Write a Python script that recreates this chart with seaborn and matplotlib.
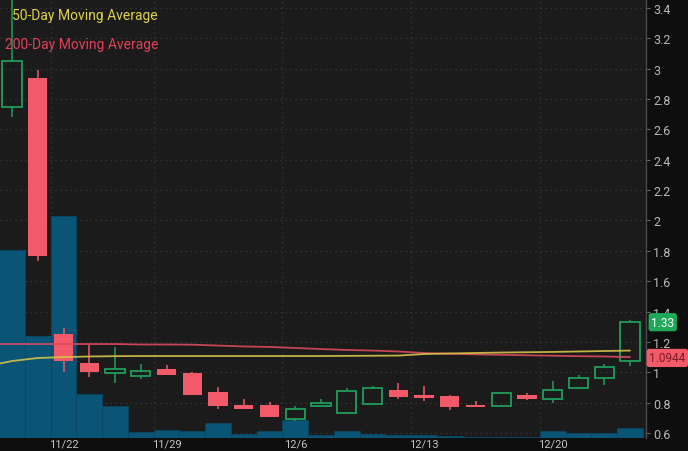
import matplotlib
matplotlib.use("Agg")
import matplotlib.pyplot as plt
import matplotlib.transforms as mtransforms
import numpy as np
import seaborn as sns

# daily candles
dates = ['11/18', '11/19', '11/22', '11/23', '11/24', '11/26', '11/29', '11/30', '12/1', '12/2',
         '12/3', '12/6', '12/7', '12/8', '12/9', '12/10', '12/13', '12/14', '12/15', '12/16',
         '12/17', '12/20', '12/21', '12/22', '12/23']
opens = [2.75, 2.94, 1.25, 1.06, 0.995, 0.975, 1.02, 0.995, 0.87, 0.784, 0.784, 0.692, 0.778,
         0.732, 0.791, 0.883, 0.85, 0.844, 0.784, 0.778, 0.85, 0.824, 0.896, 0.962, 1.074]
highs = [3.55, 2.99, 1.29, 1.18, 1.167, 1.055, 1.048, 1.002, 0.903, 0.824, 0.804, 0.778, 0.824,
         0.896, 0.91, 0.929, 0.91, 0.85, 0.811, 0.87, 0.864, 0.943, 0.982, 1.055, 1.344]
lows = [2.68, 1.733, 1.002, 0.969, 0.929, 0.956, 0.982, 0.85, 0.758, 0.758, 0.705, 0.679, 0.778,
        0.732, 0.791, 0.824, 0.811, 0.752, 0.771, 0.778, 0.817, 0.798, 0.896, 0.916, 1.041]
closes = [3.05, 1.766, 1.074, 1.002, 1.022, 1.008, 0.982, 0.85, 0.778, 0.758, 0.705, 0.758, 0.798,
          0.877, 0.896, 0.837, 0.831, 0.771, 0.771, 0.864, 0.824, 0.883, 0.962, 1.035, 1.33]
volume = [18.8, 10.2, 22.2, 4.4, 3.2, 0.6, 0.8, 0.7, 1.5, 0.4, 0.7, 1.8, 0.3, 0.7, 0.4, 0.3,
          0.3, 0.2, 0.1, 0.1, 0.1, 0.7, 0.5, 0.5, 1.0]  # millions

# moving averages start one session earlier (11/17) so the lines reach the left edge
ma50 = [1.04, 1.074, 1.094, 1.10, 1.104, 1.106, 1.107, 1.107, 1.107, 1.107, 1.107, 1.107, 1.107,
        1.107, 1.108, 1.109, 1.11, 1.12, 1.124, 1.127, 1.13, 1.132, 1.134, 1.137, 1.14, 1.143]
ma200 = [1.186, 1.186, 1.186, 1.186, 1.186, 1.186, 1.183, 1.183, 1.182, 1.176, 1.17, 1.167, 1.16,
         1.153, 1.147, 1.143, 1.137, 1.127, 1.122, 1.118, 1.115, 1.112, 1.109, 1.106, 1.104, 1.10]

tick_dates = ['11/22', '11/29', '12/6', '12/13', '12/20']
price_ticks = [0.6, 0.8, 1.0, 1.2, 1.4, 1.6, 1.8, 2.0, 2.2, 2.4, 2.6, 2.8, 3.0, 3.2, 3.4]
price_labels = ['0.6', '0.8', '1', '1.2', '1.4', '1.6', '1.8', '2', '2.2', '2.4', '2.6', '2.8',
                '3', '3.2', '3.4']
last_price = 1.33
ma_tag = 1.0944

bg = '#1b1b1b'
panel = '#0e0e0e'
up_color = '#1f9d5c'
down_color = '#f25a69'
vol_color = '#0a5575'
ma50_color = '#d6c24a'
ma200_color = '#db4a5e'
grid_color = '#3a3a3a'

sns.set_theme(style="dark", rc={"axes.facecolor": bg, "figure.facecolor": panel,
                                "savefig.facecolor": panel})
plt.rcParams['font.family'] = ['Roboto', 'DejaVu Sans']

pos = np.arange(len(dates))
ma_pos = np.arange(-1, len(dates))
o, h, l, c = map(np.array, (opens, highs, lows, closes))
up = c >= o
body_lo = np.minimum(o, c)
body_hi = np.maximum(o, c)

fig = plt.figure(figsize=(6.88, 4.52), dpi=100)
rect = [0, 13 / 452, 646 / 688, 439 / 452]
ax = fig.add_axes(rect)          # background, grid and price scale
axv = ax.twinx()                 # volume
axc = fig.add_axes(rect, sharex=ax, sharey=ax)  # candles + averages
ax.set_zorder(0)
axv.set_zorder(1)
axc.set_zorder(2)
axv.patch.set_visible(False)
axc.patch.set_visible(False)

# volume
sns.barplot(x=pos, y=volume, ax=axv, native_scale=True, width=1.0, color=vol_color,
            saturation=1, errorbar=None, edgecolor='#094760', linewidth=0.6)
axv.set_ylim(0, 43.9)
axv.set_yticks([])
axv.set_ylabel('')
for s in axv.spines.values():
    s.set_visible(False)

# candles
wick_cols = np.where(up, up_color, down_color)
axc.vlines(pos, body_hi, h, colors=wick_cols, lw=1.1, zorder=2)
axc.vlines(pos, l, body_lo, colors=wick_cols, lw=1.1, zorder=2)
axc.bar(pos[~up], (body_hi - body_lo)[~up], bottom=body_lo[~up], width=0.75,
        color=down_color, linewidth=0, zorder=3)
axc.bar(pos[up], np.maximum(body_hi - body_lo, 0.01)[up], bottom=body_lo[up], width=0.75,
        facecolor='none', edgecolor=up_color, linewidth=1.3, zorder=3)

# moving averages
sns.lineplot(x=ma_pos, y=ma200, ax=axc, color=ma200_color, lw=1.3, alpha=0.9, zorder=4)
sns.lineplot(x=ma_pos, y=ma50, ax=axc, color=ma50_color, lw=1.3, alpha=0.9, zorder=5)
axc.axis('off')

# scales, ticks, grid
ax.set_xlim(-0.466, 24.62)
ax.set_ylim(0.567, 3.459)
ax.set_xticks([dates.index(d) for d in tick_dates])
ax.set_xticklabels(tick_dates)
ax.set_xticks([dates.index(d) - 0.5 for d in tick_dates], minor=True)
ax.yaxis.tick_right()
ax.set_yticks(price_ticks)
ax.set_yticklabels(price_labels)
ax.grid(False)
ax.grid(which='minor', axis='x', color=grid_color, linestyle=(0, (1, 3)), lw=0.9)
ax.grid(which='major', axis='y', color=grid_color, linestyle=(0, (1, 3)), lw=0.9)
ax.tick_params(axis='y', which='major', right=True, left=False, length=3, width=0.8,
               color='#666666', pad=2, labelsize=9, labelcolor='#b8b8b8')
ax.tick_params(axis='x', which='both', length=0, pad=0.5, labelsize=8, labelcolor='#c4c4c4')
for name, s in ax.spines.items():
    s.set_visible(name == 'right')
ax.spines['right'].set_color('#4a4a4a')
ax.spines['right'].set_linewidth(1.0)
ax.set_xlabel('')
ax.set_ylabel('')

# legend text
axc.text(0.018, 0.964, '50-Day Moving Average', transform=axc.transAxes, color='#e0d24a',
         fontsize=10, ha='left', va='center')
axc.text(0.007, 0.898, '200-Day Moving Average', transform=axc.transAxes, color='#e2405a',
         fontsize=10, ha='left', va='center')

# price tags on the right scale
trans = mtransforms.blended_transform_factory(ax.transAxes, ax.transData)
ax.text(1.008, last_price, f'{last_price:.2f}', transform=trans, ha='left', va='center',
        fontsize=8.5, color='white', clip_on=False, zorder=10,
        bbox=dict(boxstyle='round,pad=0.22', fc='#1ea85a', ec='none'))
ax.text(1.005, ma_tag, f'{ma_tag:.4f}', transform=trans, ha='left', va='center',
        fontsize=8.5, color='#7b1b27', clip_on=False, zorder=10,
        bbox=dict(boxstyle='round,pad=0.22', fc=down_color, ec='none'))

fig.savefig('out.png', dpi=100, facecolor=panel)
